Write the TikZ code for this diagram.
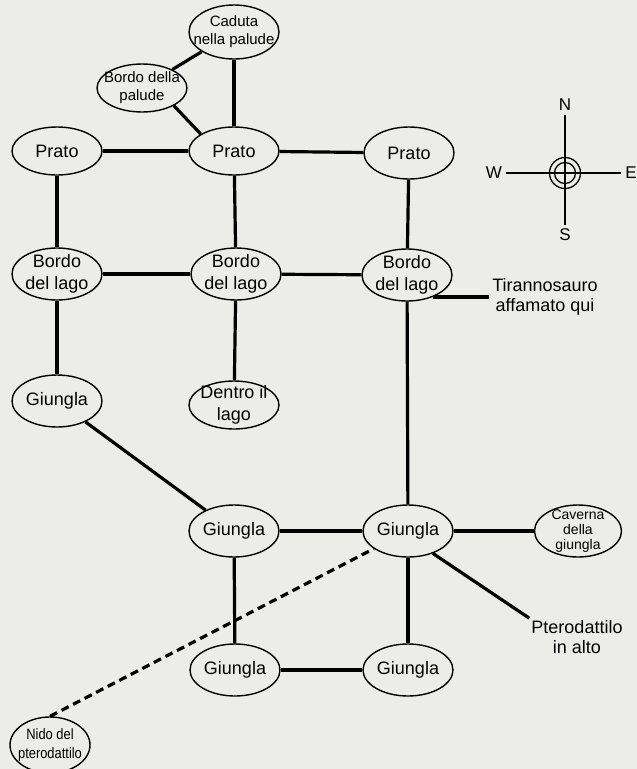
\documentclass[tikz,border=0pt]{standalone}
\usepackage{fontspec}
\setmainfont{Liberation Sans}
\newfontfamily\narrowfont[FakeStretch=0.86]{Liberation Sans}
\usetikzlibrary{shapes,positioning}
\definecolor{paper}{RGB}{236,236,233}

\begin{document}
\begin{tikzpicture}[
    x=1pt, y=-1pt,
    place/.style={draw, ellipse, line width=1.4pt, inner sep=0pt, minimum width=90pt, minimum height=52pt},
    big/.style={align=center, inner sep=0pt, font=\fontsize{18}{22}\selectfont},
    mid/.style={align=center, inner sep=0pt, font=\fontsize{15}{18}\selectfont},
    tiny/.style={align=center, inner sep=0pt, font=\fontsize{14}{15}\selectfont},
    narrow/.style={align=center, inner sep=0pt, font=\narrowfont\fontsize{15}{19}\selectfont},
    trail/.style={line width=3.2pt},
    flight/.style={line width=3.2pt, dash pattern=on 8pt off 5pt},
    note/.style={align=center, inner sep=3pt, font=\fontsize{18}{20}\selectfont},
    wind/.style={inner sep=4pt, font=\fontsize{17}{17}\selectfont},
    compass/.style={line width=1.3pt}
]
    \fill[paper] (0,0) rectangle (637,769);
    \useasboundingbox (0,0) rectangle (637,769);

    % palude
    \node[place, minimum height=54pt, label={[mid]center:Caduta\\nella palude}] (cad) at (234,32) {};
    \node[place, minimum height=48pt, label={[mid]center:Bordo della\\palude}] (bp) at (142,88) {};

    % prati
    \node[place, minimum height=48pt, label={[big]center:Prato}] (pl) at (57,151) {};
    \node[place, minimum height=48pt, label={[big]center:Prato}] (pm) at (234,151) {};
    \node[place, label={[big]center:Prato}] (pr) at (409,153) {};

    % lago
    \node[place, label={[big]center:Bordo\\del lago}] (bl1) at (57,274) {};
    \node[place, label={[big]center:Bordo\\del lago}] (bl2) at (236,274) {};
    \node[place, label={[big]center:Bordo\\del lago}] (bl3) at (407,275) {};
    \node[place, label={[big]center:Giungla}] (gl) at (57,401) {};
    \node[place, minimum height=48pt, label={[big]center:Dentro il\\lago}] (dl) at (234,405) {};

    % giungla
    \node[place, label={[big]center:Giungla}] (gc) at (234,531) {};
    \node[place, label={[big]center:Giungla}] (gr) at (408,531) {};
    \node[place, minimum width=87pt, label={[tiny]center:Caverna\\della\\giungla}] (cav) at (578,531) {};
    \node[place, label={[big]center:Giungla}] (glo) at (235,670) {};
    \node[place, label={[big]center:Giungla}] (gbr) at (408,670) {};
    \node[place, minimum width=80pt, minimum height=56pt, label={[narrow]center:Nido del\\pterodattilo}] (nido) at (50,745) {};

    \node[note] (trex) at (545,297) {Tirannosauro\\affamato qui};
    \node[note, inner sep=2pt] (ptero) at (577,637) {Pterodattilo\\in alto};

    % bussola
    \coordinate (cc) at (565,173);
    \node[wind] (cN) at (565,105) {N};
    \node[wind] (cS) at (565,235) {S};
    \node[wind] (cW) at (494,173) {W};
    \node[wind] (cE) at (631,173) {E};
    \draw[compass] (cN) -- (cS);
    \draw[compass] (cW) -- (cE);
    \draw[compass] (cc) circle[radius=15.5pt] (cc) circle[radius=10.5pt];

    \draw[trail] (cad) -- (bp);
    \draw[trail] (cad) -- (pm);
    \draw[trail] (bp.-29) -- (pm.153);
    \draw[trail] (pl) -- (pm);
    \draw[trail] (pm) -- (pr);
    \draw[trail] (pl) -- (bl1);
    \draw[trail] (pm) -- (bl2);
    \draw[trail] (pr) -- (bl3);
    \draw[trail] (bl1) -- (bl2);
    \draw[trail] (bl2) -- (bl3);
    \draw[trail] (bl1) -- (gl);
    \draw[trail] (bl2) -- (dl);
    \draw[trail] (bl3.-40) -- (bl3.-40 -| trex.west);
    \draw[trail] (gl) -- (gc);
    \draw[trail] (bl3) -- (gr);
    \draw[trail] (gc) -- (gr);
    \draw[trail] (gr) -- (cav);
    \draw[trail] (gc) -- (glo);
    \draw[trail] (gr) -- (gbr);
    \draw[trail] (glo) -- (gbr);
    \draw[trail] (gr.-42) -- (ptero.north west);
    \draw[flight] (nido.north) -- (gr);
\end{tikzpicture}
\end{document}
